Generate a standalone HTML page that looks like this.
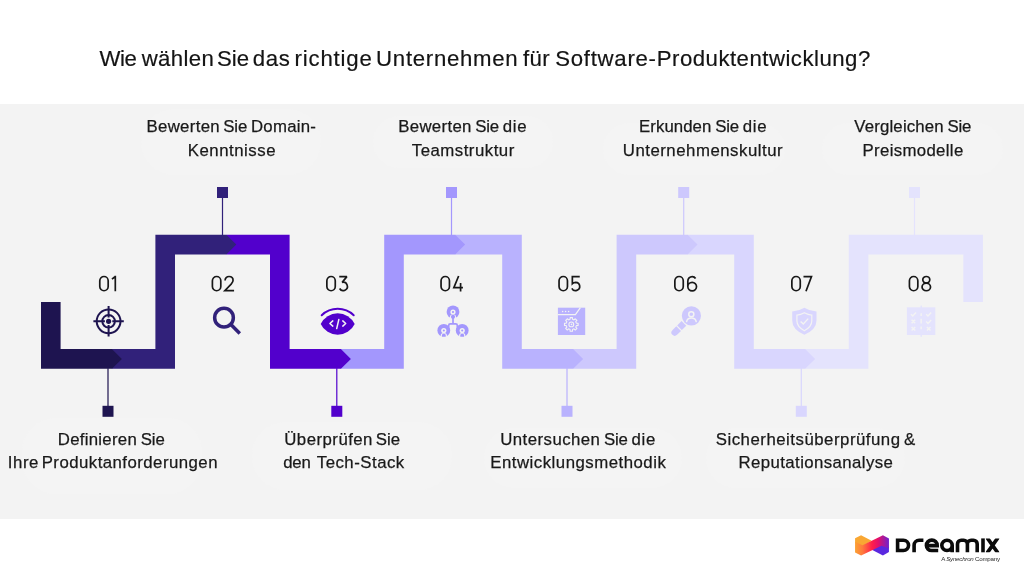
<!DOCTYPE html>
<html lang="de">
<head>
<meta charset="utf-8">
<title>Wie wählen Sie das richtige Unternehmen für Software-Produktentwicklung?</title>
<style>
html,body{margin:0;padding:0;}
body{width:1024px;height:576px;background:#fff;position:relative;overflow:hidden;font-family:"Liberation Sans",sans-serif;color:#1b1b1b;}
.band{position:absolute;left:0;top:103.7px;width:1024px;height:415.3px;background:#f3f3f3;}
.title{position:absolute;left:0;font-size:22.2px;line-height:1;white-space:nowrap;color:#141414;-webkit-text-stroke:0.2px #141414;}
.lb{position:absolute;left:0;font-size:16.8px;line-height:1;white-space:nowrap;color:#191919;-webkit-text-stroke:0.25px #191919;}
.title span,.lb span{position:absolute;top:0;}
.num{position:absolute;top:271.6px;font-size:22.3px;line-height:1;white-space:nowrap;color:transparent;}
.pill{position:absolute;background:#f4f4f4;border-radius:33px;}
svg{position:absolute;left:0;top:0;}
.tag{position:absolute;left:941.2px;top:555.5px;font-size:6.2px;letter-spacing:-0.25px;line-height:1;white-space:nowrap;color:#2a2a2a;}
.txt{position:absolute;left:0;top:0;width:1024px;height:576px;will-change:transform;}
</style>
</head>
<body>
<div class="band"></div>
<div class="pill" style="left:141px;top:109px;width:180px;height:66px"></div>
<div class="pill" style="left:373px;top:116px;width:180px;height:52px"></div>
<div class="pill" style="left:603px;top:123px;width:182px;height:52px"></div>
<div class="pill" style="left:822px;top:123px;width:181px;height:52px"></div>
<div class="pill" style="left:22px;top:418px;width:180px;height:76px"></div>
<div class="pill" style="left:252px;top:422px;width:200px;height:68px"></div>
<div class="pill" style="left:484px;top:428px;width:198px;height:60px"></div>
<div class="pill" style="left:706px;top:428px;width:199px;height:60px"></div>
<svg width="1024" height="576" viewBox="0 0 1024 576">
<polygon fill="#e4e3fd" points="805.1,349.1 848.8,349.1 848.8,234.8 982.9,234.8 982.9,302 963.3,302 963.3,254.4 868.4,254.4 868.4,368.7 805.1,368.7"/>
<polygon fill="#d9d6fe" points="687.5,234.8 753.8,234.8 753.8,349.1 805.1,349.1 815.1,358.9 805.1,368.7 734.2,368.7 734.2,254.4 687.5,254.4"/>
<polygon fill="#cdc8fd" points="573.1,349.1 616.6,349.1 616.6,234.8 687.5,234.8 697.5,244.6 687.5,254.4 636.2,254.4 636.2,368.7 573.1,368.7"/>
<polygon fill="#b9b2fe" points="455.1,234.8 521.8,234.8 521.8,349.1 573.1,349.1 583.1,358.9 573.1,368.7 502.2,368.7 502.2,254.4 455.1,254.4"/>
<polygon fill="#a397fd" points="340.9,349.1 384.2,349.1 384.2,234.8 455.1,234.8 465.1,244.6 455.1,254.4 403.8,254.4 403.8,368.7 340.9,368.7"/>
<polygon fill="#5200cc" points="226.3,234.8 289.6,234.8 289.6,349.1 340.9,349.1 350.9,358.9 340.9,368.7 270,368.7 270,254.4 226.3,254.4"/>
<polygon fill="#31217a" points="111.9,349.1 155.4,349.1 155.4,234.8 226.3,234.8 236.3,244.6 226.3,254.4 175,254.4 175,368.7 111.9,368.7"/>
<polygon fill="#1e1450" points="41,302 60.6,302 60.6,349.1 111.9,349.1 121.9,358.9 111.9,368.7 41,368.7"/>
<rect x="107.4" y="368.2" width="1.2" height="38.3" fill="#1e1450"/>
<rect x="102.5" y="405.8" width="11" height="11" fill="#1e1450"/>
<rect x="221.9" y="197.5" width="1.2" height="37.8" fill="#31217a"/>
<rect x="217" y="187" width="11" height="11" fill="#31217a"/>
<rect x="336.2" y="368.2" width="1.2" height="38.3" fill="#5200cc"/>
<rect x="331.3" y="405.8" width="11" height="11" fill="#5200cc"/>
<rect x="450.9" y="197.5" width="1.2" height="37.8" fill="#a397fd"/>
<rect x="446" y="187" width="11" height="11" fill="#a397fd"/>
<rect x="566.4" y="368.2" width="1.2" height="38.3" fill="#b9b2fe"/>
<rect x="561.5" y="405.8" width="11" height="11" fill="#b9b2fe"/>
<rect x="683.1" y="197.5" width="1.2" height="37.8" fill="#cdc8fd"/>
<rect x="678.2" y="187" width="11" height="11" fill="#cdc8fd"/>
<rect x="800.7" y="368.2" width="1.2" height="38.3" fill="#d9d6fe"/>
<rect x="795.8" y="405.8" width="11" height="11" fill="#d9d6fe"/>
<rect x="913.9" y="197.5" width="1.2" height="37.8" fill="#e4e3fd"/>
<rect x="909" y="187" width="11" height="11" fill="#e4e3fd"/>
<!-- 01 target -->
<g fill="none" stroke="#1e1450" stroke-width="2">
<circle cx="108.6" cy="321.3" r="11.9"/>
<circle cx="108.6" cy="321.3" r="6.3"/>
<path d="M108.6,306.1V317.6M108.6,325V336.5M93.4,321.3H104.9M112.3,321.3H123.8"/>
</g>
<circle cx="108.6" cy="321.3" r="2.6" fill="#1e1450"/>
<!-- 02 magnifier -->
<g fill="none" stroke="#31217a" stroke-width="3.5">
<circle cx="224" cy="317.7" r="9.35"/>
<path d="M230.4,324.1L239.8,333.5"/>
</g>
<!-- 03 eye code -->
<path d="M320.7,324A18.78,18.78 0 0 1 354.7,324A18.78,18.78 0 0 1 320.7,324Z" fill="#5200cc"/>
<path d="M321.7,315.3A23.13,23.13 0 0 1 353.7,315.3" fill="none" stroke="#5200cc" stroke-width="2" stroke-linecap="round"/>
<g fill="none" stroke="#f3f3f3" stroke-width="1.5" stroke-linecap="round" stroke-linejoin="round">
<path d="M332.8,320.9L329.9,323.5L332.8,326.1M342.8,320.9L345.7,323.5L342.8,326.1M338.8,319.6L336.7,328.6"/>
</g>
<!-- 04 team -->
<g fill="#a397fd">
<circle cx="453" cy="311.9" r="6.4"/>
<circle cx="443.8" cy="330.4" r="6.4"/>
<circle cx="462.2" cy="330.4" r="6.4"/>
</g>
<g fill="#f3f3f3">
<circle cx="453" cy="312.00" r="2.6"/>
<rect x="449.90" y="314.50" width="6.2" height="6.2" rx="2.6"/>
<circle cx="443.8" cy="330.50" r="2.6"/>
<rect x="440.70" y="333.00" width="6.2" height="6.2" rx="2.6"/>
<circle cx="462.2" cy="330.50" r="2.6"/>
<rect x="459.10" y="333.00" width="6.2" height="6.2" rx="2.6"/>
</g>
<g fill="#a397fd">
<circle cx="453" cy="312.00" r="1.05"/>
<circle cx="443.8" cy="330.50" r="1.05"/>
<circle cx="462.2" cy="330.50" r="1.05"/>
<circle cx="453" cy="316.8" r="2.1"/>
<path d="M441.90,336.70V335.40A1.9,1.9 0 0 1 445.70,335.40V336.70Z"/>
<path d="M460.30,336.70V335.40A1.9,1.9 0 0 1 464.10,335.40V336.70Z"/>
</g>
<path d="M453,317V323.8M448.7,327.2V325.4Q448.7,323.8 450.3,323.8H455.7Q457.3,323.8 457.3,325.4V327.2" fill="none" stroke="#a397fd" stroke-width="1.7"/>
<!-- 05 browser gear -->
<rect x="557.9" y="307.7" width="27.3" height="27.3" fill="#b9b2fe"/>
<path d="M557.9,314.7H575.4L580.4,307.7" fill="none" stroke="#f3f3f3" stroke-width="1.2"/>
<g fill="#f3f3f3"><circle cx="562.6" cy="311.4" r="0.75"/><circle cx="565.6" cy="311.4" r="0.75"/><circle cx="568.6" cy="311.4" r="0.75"/></g>
<g fill="none" stroke="#f3f3f3" stroke-width="1.1" stroke-linejoin="round">
<path d="M576.35,323.16L578.10,323.23L578.10,325.57L576.35,325.64L575.75,327.10L576.93,328.38L575.28,330.03L574.00,328.85L572.54,329.45L572.47,331.20L570.13,331.20L570.06,329.45L568.60,328.85L567.32,330.03L565.67,328.38L566.85,327.10L566.25,325.64L564.50,325.57L564.50,323.23L566.25,323.16L566.85,321.70L565.67,320.42L567.32,318.77L568.60,319.95L570.06,319.35L570.13,317.60L572.47,317.60L572.54,319.35L574.00,319.95L575.28,318.77L576.93,320.42L575.75,321.70Z"/>
<circle cx="571.3" cy="324.4" r="2.4"/>
</g>
<circle cx="571.5" cy="324.4" r="0.8" fill="#f3f3f3"/>
<!-- 06 search person -->
<circle cx="691.4" cy="315.85" r="9.6" fill="#cdc8fd"/>
<g transform="translate(691.4,315.85) rotate(135)" fill="#cdc8fd"><rect x="10.6" y="-3.3" width="6.2" height="6.6"/><path d="M18,-3.3H23.6A3.3,3.3 0 0 1 23.6,3.3H18Z"/></g>
<g fill="none" stroke="#f3f3f3" stroke-width="1.5" stroke-linecap="round">
<circle cx="691.3" cy="314.2" r="2.55"/>
<path d="M686.6,321.6A4.85,4.2 0 0 1 696.2,321.6"/>
</g>
<!-- 07 shield -->
<path d="M804.35,307.7Q810,311.2 816.5,311.5V320.5Q816.5,329.5 804.35,334.8Q792.2,329.5 792.2,320.5V311.5Q798.7,311.2 804.35,307.7Z" fill="#d9d6fe"/>
<path d="M804.35,312.8Q808.2,314.9 811.8,315.1V320.8Q811.8,326.8 804.35,330.7Q796.9,326.8 796.9,320.8V315.1Q800.5,314.9 804.35,312.8Z" fill="none" stroke="#f3f3f3" stroke-width="1.2"/>
<path d="M800.6,321.4L803.3,324L808.2,318.6" fill="none" stroke="#f3f3f3" stroke-width="1.4"/>
<!-- 08 compare -->
<rect x="906.9" y="307.3" width="28.4" height="27.7" fill="#e4e3fd"/>
<rect x="920.5" y="305.6" width="1.4" height="31.2" fill="#e4e3fd"/>
<g stroke="#f3f3f3" fill="none" stroke-width="1.45">
<path d="M921.2,313.2V316M921.2,318.8V323.6M921.2,326.4V329.2"/>
<path d="M911,314.2L912.8,316L916,312.5M926.2,314.2L928,316L931.2,312.5M926.2,321.6L928,323.4L931.2,319.9"/>
<path d="M911.6,319.7L915.2,323.3M915.2,319.7L911.6,323.3M911.6,327L915.2,330.6M915.2,327L911.6,330.6M926.9,327L930.5,330.6M930.5,327L926.9,330.6"/>
</g>

<g fill="none" stroke="#181818" stroke-width="1.7" stroke-linejoin="miter" stroke-miterlimit="10">
<g transform="translate(98.98,275.70)"><rect x="0.8" y="0.8" width="8.4" height="14.25" rx="4.2"/></g>
<g transform="translate(111.50,275.70)"><path d="M3.8,0.1V15.45M0.45,3.4L3.5,1.05"/></g>
<g transform="translate(211.60,275.70)"><rect x="0.8" y="0.8" width="8.4" height="14.25" rx="4.2"/></g>
<g transform="translate(223.97,275.70)"><path d="M1.1,4.7C1.1,2.4 2.8,0.8 5.05,0.8C7.4,0.8 9.1,2.4 9.1,4.6C9.1,6.2 8.4,7.2 7.2,8.4L0.9,14.9H10.1"/></g>
<g transform="translate(326.06,275.70)"><rect x="0.8" y="0.8" width="8.4" height="14.25" rx="4.2"/></g>
<g transform="translate(338.66,275.70)"><path stroke-linejoin="bevel" d="M0.6,0.95H8.2L3.5,6.7A4.15,4.15 0 1 1 0.95,12.8"/></g>
<g transform="translate(440.25,275.70)"><rect x="0.8" y="0.8" width="8.4" height="14.25" rx="4.2"/></g>
<g transform="translate(453.04,275.70)"><path d="M5.6,0.3L0.8,11.9H9.9M7.55,7.3V15.8"/></g>
<g transform="translate(558.25,275.70)"><rect x="0.8" y="0.8" width="8.4" height="14.25" rx="4.2"/></g>
<g transform="translate(570.85,275.70)"><path d="M8.9,0.95H1.5V7.9C2.3,7.0 3.5,6.6 4.9,6.6A4.15,4.15 0 1 1 1.0,12.6"/></g>
<g transform="translate(674.06,275.70)"><rect x="0.8" y="0.8" width="8.4" height="14.25" rx="4.2"/></g>
<g transform="translate(686.97,275.70)"><path d="M8.6,2.8C7.9,1.6 6.7,0.85 5.3,0.85C2.7,0.85 0.85,2.9 0.85,5.5V10.9A4.35,4.3 0 1 0 9.55,10.9A4.35,4.3 0 1 0 0.85,10.9"/></g>
<g transform="translate(791.06,275.70)"><rect x="0.8" y="0.8" width="8.4" height="14.25" rx="4.2"/></g>
<g transform="translate(803.28,275.70)"><path d="M0.2,0.95H8.2L2.7,15.6"/></g>
<g transform="translate(908.63,275.70)"><rect x="0.8" y="0.8" width="8.4" height="14.25" rx="4.2"/></g>
<g transform="translate(921.23,275.70)"><ellipse cx="5.06" cy="4.13" rx="3.5" ry="3.33"/><ellipse cx="5.06" cy="11.27" rx="4.25" ry="3.8"/></g>
</g>
<defs>
<linearGradient id="lg" gradientUnits="userSpaceOnUse" x1="855" y1="0" x2="889" y2="0">
<stop offset="0" stop-color="#fba234"/><stop offset="0.22" stop-color="#ff7a3c"/><stop offset="0.5" stop-color="#ff1f4a"/><stop offset="0.68" stop-color="#e4106a"/><stop offset="0.85" stop-color="#a51a9e"/><stop offset="1" stop-color="#6f22cf"/>
</linearGradient>
</defs>
<polygon fill="#f9a733" points="855.05,538.33 861.09,535.21 871.61,540.68 862.5,546.6 855.05,543"/>
<polygon fill="#5a28e0" points="871.4,549.53 881.51,544.5 888.96,547.3 888.96,551.9 882.92,555.52"/>
<polygon fill="url(#lg)" points="855.05,541.72 862.5,545.36 882.92,535.21 888.96,538.59 888.96,548.49 881.51,545.63 861.09,555.52 855.05,552.4"/>
<g fill="none" stroke="#0b0b0b" stroke-width="3.6">
<path d="M897.6,540.2H903.4A5.15,5.15 0 0 1 903.4,550.5H897.6Z"/>
<path d="M914.1,552.3V545.2A5,5 0 0 1 919.1,540.2H923.4"/>
<path d="M926.6,545.6H937.2V545.4A5.3,5.2 0 0 0 926.4,545.4V545.6A5.3,4.9 0 0 0 931.7,550.5H938.2"/>
<path d="M952.2,545.35A5.2,5.15 0 1 0 941.8,545.35A5.2,5.15 0 1 0 952.2,545.35V552.3"/>
<path d="M957.5,552.3V543.9A3.7,3.7 0 0 1 961.2,540.2H963.7A3.7,3.7 0 0 1 967.4,543.9V552.3M967.4,543.9A3.7,3.7 0 0 1 971.1,540.2H973.5A3.7,3.7 0 0 1 977.2,543.9V552.3"/>
<path d="M983,538.4V552.3"/>
</g>
<clipPath id="xc"><rect x="985.8" y="538.4" width="13.6" height="13.9"/></clipPath>
<path clip-path="url(#xc)" d="M986.2,536.4L998.9,554.3M998.9,536.4L986.2,554.3" fill="none" stroke="#0b0b0b" stroke-width="3.7"/>

</svg>
<div class="txt">
<div class="title" style="top:48.4px"><span style="left:99.5px;letter-spacing:-0.375px">Wie</span> <span style="left:141.75px;letter-spacing:0.350px">wählen</span> <span style="left:217px;letter-spacing:0.000px">Sie</span> <span style="left:252.75px;letter-spacing:0.675px">das</span> <span style="left:294.6px;letter-spacing:0.807px">richtige</span> <span style="left:376.1px;letter-spacing:0.715px">Unternehmen</span> <span style="left:523.1px;letter-spacing:0.325px">für</span> <span style="left:555.25px;letter-spacing:0.719px">Software-</span> <span style="left:656.75px;letter-spacing:0.486px">Produktentwicklung?</span></div>
<div class="num" style="left:97.6px">01</div>
<div class="num" style="left:209.8px">02</div>
<div class="num" style="left:324.8px">03</div>
<div class="num" style="left:438.4px">04</div>
<div class="num" style="left:556.4px">05</div>
<div class="num" style="left:672.4px">06</div>
<div class="num" style="left:789.4px">07</div>
<div class="num" style="left:906.8px">08</div>
<div class="lb" style="top:118.7px"><span style="left:146.5px;letter-spacing:0.321px">Bewerten</span> <span style="left:223.25px;letter-spacing:-0.125px">Sie</span> <span style="left:251px;letter-spacing:0.250px">Domain-</span></div>
<div class="lb" style="top:142.7px"><span style="left:187.75px;letter-spacing:0.528px">Kenntnisse</span></div>
<div class="lb" style="top:118.7px"><span style="left:398.25px;letter-spacing:0.321px">Bewerten</span> <span style="left:475.25px;letter-spacing:-0.250px">Sie</span> <span style="left:502.75px;letter-spacing:0.750px">die</span></div>
<div class="lb" style="top:142.7px"><span style="left:411.75px;letter-spacing:0.500px">Teamstruktur</span></div>
<div class="lb" style="top:118.7px"><span style="left:639px;letter-spacing:0.071px">Erkunden</span> <span style="left:715.25px;letter-spacing:-0.250px">Sie</span> <span style="left:742.75px;letter-spacing:0.750px">die</span></div>
<div class="lb" style="top:142.7px"><span style="left:622.75px;letter-spacing:0.515px">Unternehmenskultur</span></div>
<div class="lb" style="top:118.7px"><span style="left:854.25px;letter-spacing:0.175px">Vergleichen</span> <span style="left:947.5px;letter-spacing:-0.250px">Sie</span></div>
<div class="lb" style="top:142.7px"><span style="left:862.5px;letter-spacing:0.341px">Preismodelle</span></div>
<div class="lb" style="top:431.7px"><span style="left:57.75px;letter-spacing:0.278px">Definieren</span> <span style="left:140.75px;letter-spacing:-0.125px">Sie</span></div>
<div class="lb" style="top:454.7px"><span style="left:7.7px;letter-spacing:0.600px">Ihre</span> <span style="left:41.7px;letter-spacing:0.463px">Produktanforderungen</span></div>
<div class="lb" style="top:431.7px"><span style="left:284.25px;letter-spacing:0.472px">Überprüfen</span> <span style="left:375.75px;letter-spacing:0.000px">Sie</span></div>
<div class="lb" style="top:454.7px"><span style="left:283.25px;letter-spacing:-0.250px">den</span> <span style="left:316.75px;letter-spacing:0.500px">Tech-Stack</span></div>
<div class="lb" style="top:431.7px"><span style="left:500.25px;letter-spacing:0.450px">Untersuchen</span> <span style="left:604px;letter-spacing:-0.250px">Sie</span> <span style="left:631.5px;letter-spacing:0.750px">die</span></div>
<div class="lb" style="top:454.7px"><span style="left:490.25px;letter-spacing:0.500px">Entwicklungsmethodik</span></div>
<div class="lb" style="top:431.7px"><span style="left:715.75px;letter-spacing:0.512px">Sicherheitsüberprüfung</span> <span style="left:904px;letter-spacing:0.000px">&amp;</span></div>
<div class="lb" style="top:454.7px"><span style="left:738.5px;letter-spacing:0.412px">Reputationsanalyse</span></div>
<div class="tag">A <i>Synechron</i> Company</div>
</div>
</body>
</html>
